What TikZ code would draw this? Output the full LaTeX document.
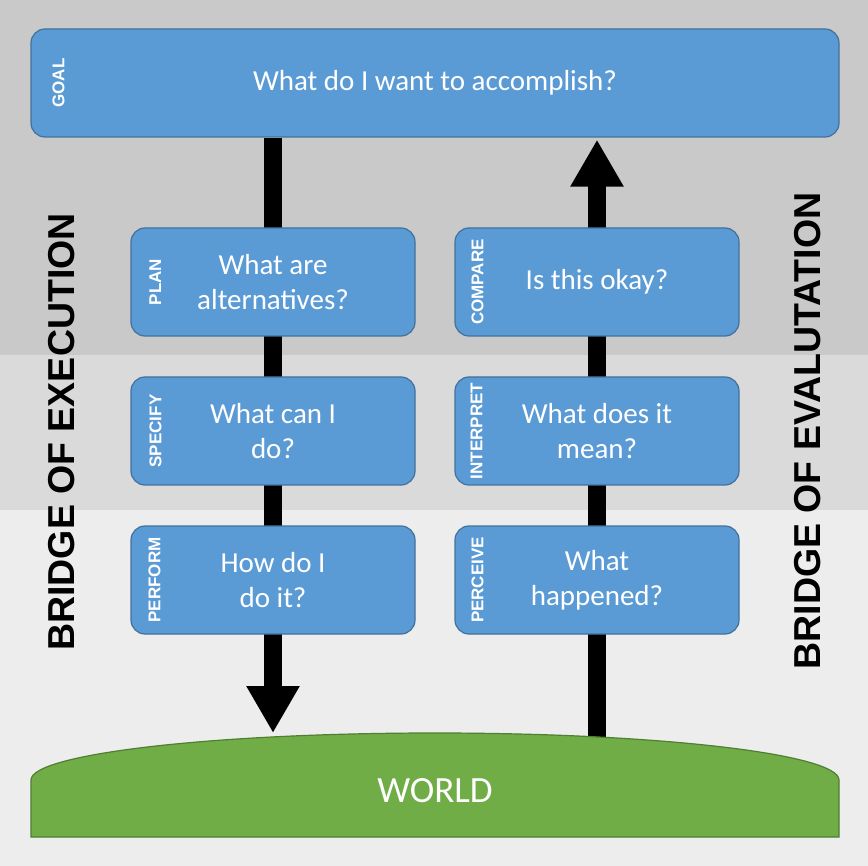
\documentclass[tikz,border=0pt]{standalone}
\usepackage{fontspec}
\setmainfont{Carlito}
\newfontfamily\headfont{Liberation Sans}
\usepackage{xcolor}
\usetikzlibrary{positioning, arrows.meta, backgrounds}

\definecolor{boxblue}{HTML}{5B9BD5}
\definecolor{boxedge}{HTML}{41719C}
\definecolor{grass}{HTML}{70AD47}
\definecolor{grassedge}{HTML}{507E32}
\definecolor{bandA}{HTML}{C9C9C9}
\definecolor{bandB}{HTML}{DADADA}
\definecolor{bandC}{HTML}{EDEDED}

\begin{document}
\begin{tikzpicture}[x=1pt, y=-1pt, node distance=149pt, on grid,
        box/.style={draw=boxedge, line width=1.2pt, fill=boxblue, rounded corners=14pt,
            minimum width=284pt, minimum height=108pt, text=white, align=center,
            font=\fontsize{29}{35}\selectfont},
        stagelbl/.style={rotate=90, text=white, font=\headfont\bfseries\fontsize{17}{17}\selectfont},
        bridge/.style={rotate=90, font=\headfont\bfseries\fontsize{37.5}{37.5}\selectfont},
        bigarrow/.style={line width=18pt, -{Triangle[width=50pt, length=47pt]}}]
        \useasboundingbox (0,0) rectangle (868,866);

        \node[box, minimum width=808pt] (goal) at (435,83) {What do I want to accomplish?};
        \node[box] (plan) at (273,282) {What are\\alternatives?};
        \node[box] (compare) [right=324pt of plan] {Is this okay?};
        \node[box] (specify) [below=of plan] {What can I\\do?};
        \node[box] (interpret) [below=of compare] {What does it\\mean?};
        \node[box] (perform) [below=of specify] {How do I\\do it?};
        \node[box] (perceive) [below=of interpret] {What\\happened?};

        \node[stagelbl] (goallbl) at ([xshift=28pt]goal.west) {GOAL};
        \node[stagelbl] (planlbl) at ([xshift=25pt]plan.west) {PLAN};
        \node[stagelbl] (speclbl) at ([xshift=25pt]specify.west) {SPECIFY};
        \node[stagelbl] (perflbl) at ([xshift=24pt]perform.west) {PERFORM};
        \node[stagelbl] (complbl) at ([xshift=23pt]compare.west) {COMPARE};
        \node[stagelbl] (intlbl) at ([xshift=22pt]interpret.west) {INTERPRET};
        \node[stagelbl] (perclbl) at ([xshift=23pt]perceive.west) {PERCEIVE};

        \node[bridge] (execlbl) at (62,432) {BRIDGE OF EXECUTION};
        \node[bridge] (evallbl) at (808,431) {BRIDGE OF EVALUTATION};

        \node[text=white, font=\fontsize{37}{37}\selectfont] (world) at (435,791) {WORLD};
        \coordinate (landL) at (perform |- 0,733);
        \coordinate (landR) at (perceive |- 0,750);

        \begin{scope}[on background layer]
            \fill[bandA] (0,0) rectangle (868,355);
            \fill[bandB] (0,355) rectangle (868,510);
            \fill[bandC] (0,510) rectangle (868,866);
            \draw[bigarrow] (goal.south -| perform) -- (landL);
            \draw[bigarrow] (landR) -- ([yshift=-2pt]goal.south -| perceive);
            % ground
            \draw[grassedge, fill=grass, line width=1.2pt] (31,837) -- (31,780)
                arc[start angle=180, end angle=0, x radius=404pt, y radius=47pt] -- (839,837) -- cycle;
        \end{scope}
    \end{tikzpicture}
\end{document}
